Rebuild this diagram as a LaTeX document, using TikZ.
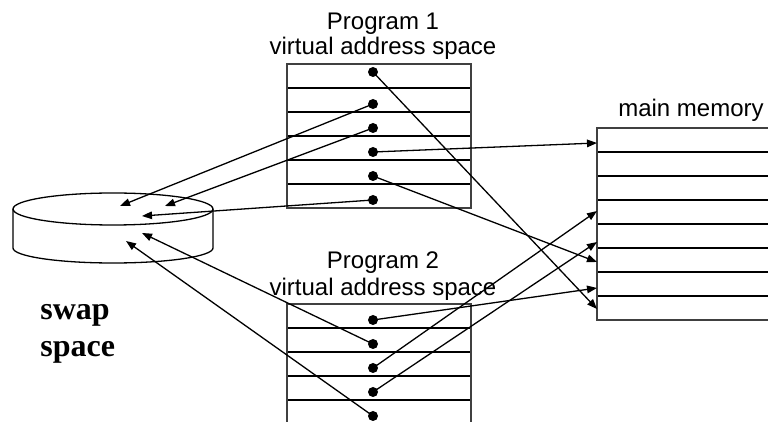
\documentclass[tikz,border=0pt]{standalone}
\usepackage{fontspec}
\setmainfont{Liberation Sans}
\newfontfamily\swapfont{Liberation Serif}
\usetikzlibrary{arrows.meta}

\begin{document}
\begin{tikzpicture}[x=0.5pt,y=-0.5pt,
  frame/.style={draw=black!75, line width=1pt},
  rowline/.style={draw=black, line width=0.65pt},
  ptr/.style={-{Triangle[length=5pt,width=3.8pt]}, line width=0.65pt},
  dot/.style={circle, fill=black, inner sep=0pt, minimum size=5pt},
  lbl/.style={font=\fontsize{12}{14}\selectfont, anchor=base, inner sep=0pt},
  big/.style={font=\swapfont\bfseries\fontsize{16}{18}\selectfont, anchor=base west, inner sep=0pt},
]
\useasboundingbox (0,0) rectangle (768,422);
\clip (0,0) rectangle (768,422);

% Program 1 page table
\draw[rowline] foreach \y in {88,112,...,184} {(287,\y) -- (471,\y)};
\draw[frame] (287,64) rectangle (471,208);
\node[lbl] (p1name) at (383,30) {Program 1};
\node[lbl] (p1vas)  at (383,55) {virtual address space};

% Program 2 page table (runs off the bottom)
\draw[rowline] foreach \y in {328,352,...,400} {(287,\y) -- (471,\y)};
\draw[frame] (287,430) -- (287,304) -- (471,304) -- (471,430);
\node[lbl] (p2name) at (383,269) {Program 2};
\node[lbl] (p2vas)  at (383,296) {virtual address space};

% Main memory frames (runs off the right)
\draw[rowline] foreach \y in {152,176,...,296} {(597,\y) -- (780,\y)};
\draw[frame] (780,128) -- (597,128) -- (597,320) -- (780,320);
\node[lbl] (mmname) at (691,116.7) {main memory};

% Swap disk
\draw[line width=0.65pt] (113,209) ellipse [x radius=100, y radius=16];
\draw[line width=0.65pt] (13,209) -- (13,248)
  arc[start angle=180, end angle=0, x radius=100, y radius=15] -- (213,209);
\node[big] (swap1) at (40,320) {swap};
\node[big] (swap2) at (40,357) {space};

% Page table entries
\foreach \i/\y in {1/72,2/104,3/128,4/152,5/176,6/200}
  \node[dot] (d\i) at (373,\y) {};
\foreach \i/\y in {1/320,2/344,3/368,4/392,5/416}
  \node[dot] (e\i) at (373,\y) {};

% Targets in main memory
\coordinate (m1) at (597,143);
\coordinate (m2) at (597,211);
\coordinate (m3) at (597,242);
\coordinate (m4) at (597,262);
\coordinate (m5) at (597,288);
\coordinate (m6) at (597,309);

% Targets on the swap disk
\coordinate (s1) at (120,206);
\coordinate (s2) at (165,206);
\coordinate (s3) at (142,216);
\coordinate (s4) at (142,233);
\coordinate (s5) at (126,241);

% Mappings
\draw[ptr] (d1.center) -- (m6);
\draw[ptr] (d2.center) -- (s1);
\draw[ptr] (d3.center) -- (s2);
\draw[ptr] (d4.center) -- (m1);
\draw[ptr] (d5.center) -- (m4);
\draw[ptr] (d6.center) -- (s3);
\draw[ptr] (e1.center) -- (m5);
\draw[ptr] (e2.center) -- (s4);
\draw[ptr] (e3.center) -- (m2);
\draw[ptr] (e4.center) -- (m3);
\draw[ptr] (e5.center) -- (s5);
\end{tikzpicture}
\end{document}
